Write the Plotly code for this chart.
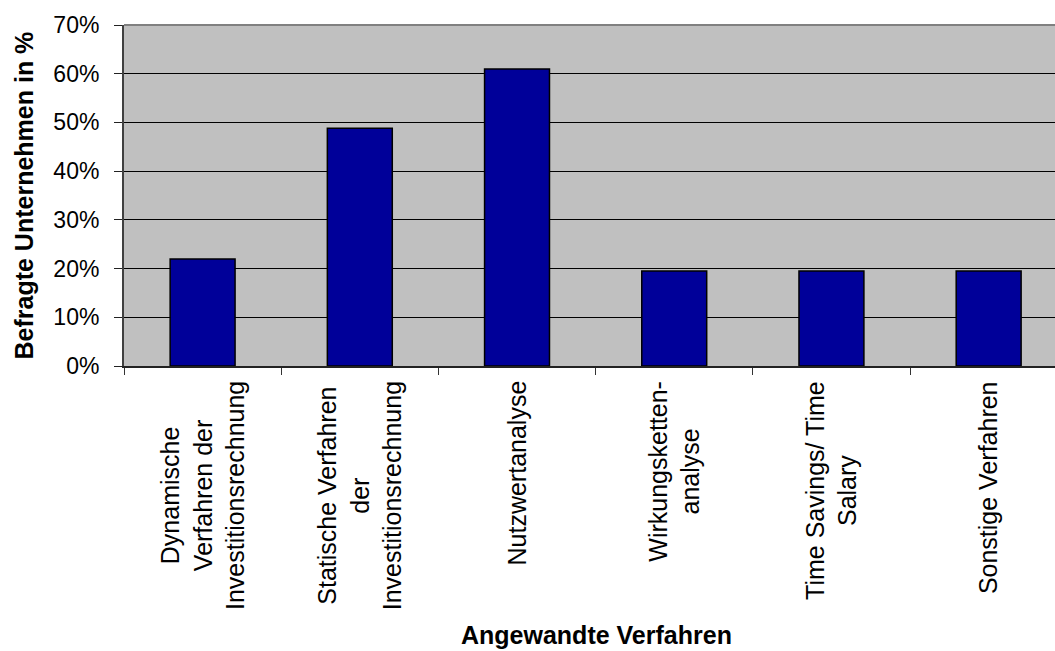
import plotly.graph_objects as go

categories = [
    "Dynamische<br>Verfahren der<br>Investitionsrechnung",
    "Statische Verfahren<br>der<br>Investitionsrechnung",
    "Nutzwertanalyse",
    "Wirkungsketten-<br>analyse",
    "Time Savings/ Time<br>Salary",
    "Sonstige Verfahren",
]
values = [0.2195, 0.4878, 0.6098, 0.1951, 0.1951, 0.1951]
y_title = "Befragte Unternehmen in %"
x_title = "Angewandte Verfahren"

FONT = "Arial, 'Liberation Sans', sans-serif"

fig = go.Figure()
fig.add_trace(go.Bar(
    x=list(range(len(categories))),
    y=values,
    width=0.413,
    marker=dict(color="#000099", line=dict(color="black", width=1.5)),
    hoverinfo="skip",
))

# category labels as rotated, centered multi-line annotations
for i, c in enumerate(categories):
    fig.add_annotation(
        x=i, xref="x", y=-0.038, yref="paper",
        text=c, textangle=-90, showarrow=False,
        xanchor="center", yanchor="top", align="center",
        font=dict(family=FONT, size=25, color="black"),
    )

fig.add_annotation(
    x=(596 - 124) / 931, xref="paper", y=(366 - 650) / 341, yref="paper",
    text="<b>" + x_title + "</b>", showarrow=False,
    xanchor="center", yanchor="bottom", borderpad=0,
    font=dict(family=FONT, size=25, color="black"),
)
fig.add_annotation(
    x=(23 - 124) / 931, xref="paper", y=0.5, yref="paper",
    text="<b>" + y_title + "</b>", textangle=-90, showarrow=False,
    xanchor="center", yanchor="middle",
    font=dict(family=FONT, size=25, color="black"),
)

# top border of plot area
fig.add_shape(type="line", xref="paper", yref="paper", x0=0, x1=1, y0=1, y1=1,
              line=dict(color="#808080", width=2))

fig.update_layout(
    width=1055, height=651,
    margin=dict(l=124, r=0, t=25, b=285),
    paper_bgcolor="white", plot_bgcolor="#C0C0C0",
    showlegend=False,
    font=dict(family=FONT, color="black"),
    xaxis=dict(
        range=[-0.5, 5.422],
        tickvals=[-0.5, 0.5, 1.5, 2.5, 3.5, 4.5, 5.5],
        ticktext=[""] * 7,
        ticks="outside", ticklen=7, tickcolor="#333333", tickwidth=1,
        showgrid=False, zeroline=False,
        showline=True, linecolor="#222222", linewidth=1.5,
    ),
    yaxis=dict(
        range=[0, 0.7], dtick=0.1, tickformat=".0%",
        ticks="outside", ticklen=8, tickcolor="#222222", tickwidth=1,
        ticklabelstandoff=10,
        tickfont=dict(family=FONT, size=23, color="black"),
        showgrid=True, gridcolor="black", gridwidth=1,
        zeroline=False,
        showline=True, linecolor="#404040", linewidth=2,
    ),
)

fig.write_html(
    "out.html",
    config={"displayModeBar": False},
    post_script="document.body.style.margin='0';document.body.style.overflow='hidden';",
)
